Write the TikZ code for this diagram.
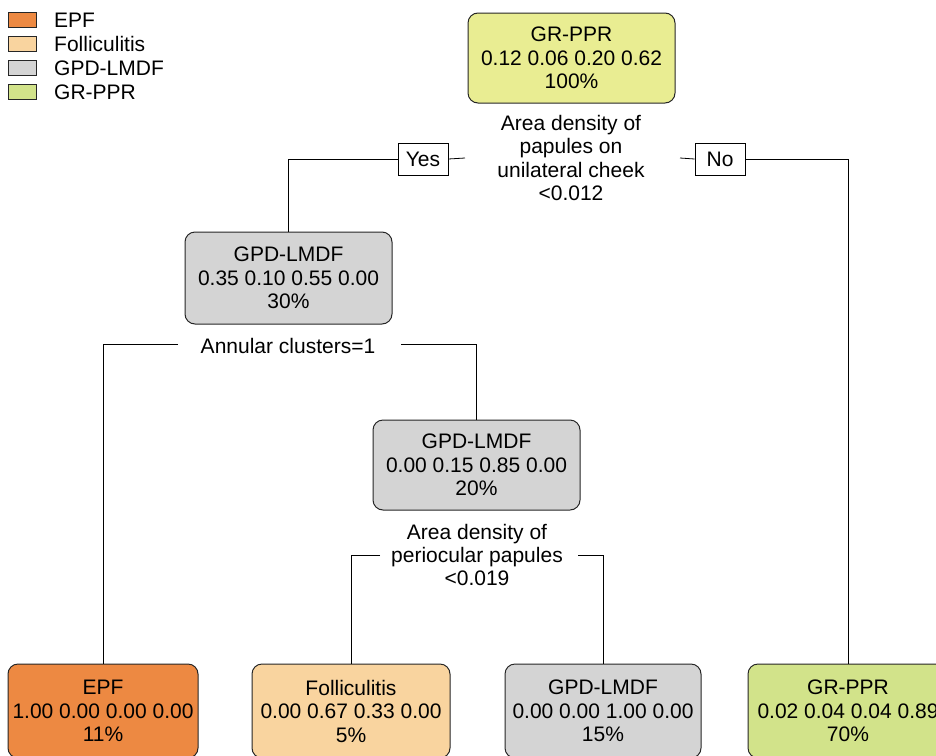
\documentclass[tikz,border=0pt]{standalone}
\usepackage{fontspec}
\setmainfont{Liberation Sans}
\definecolor{cEPF}{RGB}{237,137,66}
\definecolor{cFol}{RGB}{249,212,159}
\definecolor{cGPD}{RGB}{212,212,212}
\definecolor{cGR}{RGB}{210,227,138}
\definecolor{cRoot}{RGB}{233,237,146}
\begin{document}
\begin{tikzpicture}[x=1pt,y=-1pt,
  every node/.style={font=\fontsize{21}{23.4}\selectfont},
  treenode/.style={draw=black!85, line width=1pt, rounded corners=10pt, align=center,
    minimum height=90, inner sep=0pt, text depth=0pt},
  splitlab/.style={align=center, inner sep=1pt},
  yn/.style={draw=black, line width=0.8pt, inner xsep=7pt, inner ysep=4pt, minimum height=32, minimum width=50},
  conn/.style={line width=0.8pt, black},
  legbox/.style={draw=black!85, line width=0.8pt, minimum width=28, minimum height=15, inner sep=0pt},
  legtxt/.style={anchor=west, inner sep=0pt}]
\useasboundingbox (0,0) rectangle (936,755);
% legend
\node[legbox, fill=cEPF] (lb1) at (22,20) {};
\node[legbox, fill=cFol] (lb2) at (22,44) {};
\node[legbox, fill=cGPD] (lb3) at (22,68) {};
\node[legbox, fill=cGR] (lb4) at (22,92) {};
\node[legtxt] (lt1) at (54,20) {EPF};
\node[legtxt] (lt2) at (54,44) {Folliculitis};
\node[legtxt] (lt3) at (54,68) {GPD-LMDF};
\node[legtxt] (lt4) at (54,92) {GR-PPR};
% nodes
\node[treenode, fill=cRoot, minimum width=207] (root) at (571.5,58) {GR-PPR\\0.12 0.06 0.20 0.62\\100\%};
\node[splitlab] (s1) at (571,158) {Area density of\\papules on\\unilateral cheek\\<0.012};
\node[yn] (yes) at (423,159) {Yes};
\node[yn] (no) at (720,159) {No};
\node[treenode, fill=cGPD, minimum width=207, minimum height=92] (n2) at (288.5,278) {GPD-LMDF\\0.35 0.10 0.55 0.00\\30\%};
\node[splitlab] (s2) at (288,346) {Annular clusters=1};
\node[treenode, fill=cGPD, minimum width=207] (n3) at (476.5,465) {GPD-LMDF\\0.00 0.15 0.85 0.00\\20\%};
\node[splitlab] (s3) at (477,555) {Area density of\\periocular papules\\<0.019};
\node[treenode, fill=cEPF, minimum width=190, minimum height=94] (l1) at (103,711) {EPF\\1.00 0.00 0.00 0.00\\11\%};
\node[treenode, fill=cFol, minimum width=198, minimum height=94] (l2) at (351,711) {Folliculitis\\0.00 0.67 0.33 0.00\\5\%};
\node[treenode, fill=cGPD, minimum width=196, minimum height=94] (l3) at (603,711) {GPD-LMDF\\0.00 0.00 1.00 0.00\\15\%};
\node[treenode, fill=cGR, minimum width=200, minimum height=94] (l4) at (848,711) {GR-PPR\\0.02 0.04 0.04 0.89\\70\%};
% connector ends
\coordinate (ry) at (465,158);
\coordinate (rn) at (680,158);
\coordinate (a1) at (178,344);
\coordinate (a2) at (401,344);
\coordinate (b1) at (380,555);
\coordinate (b2) at (578,555);
% connectors
\draw[conn] (yes.west) -| (n2.north);
\draw[conn] (yes.east) -- (ry);
\draw[conn] (rn) -- (no.west);
\draw[conn] (no.east) -| (l4.north);
\draw[conn] (a1) -| (l1.north);
\draw[conn] (a2) -| (n3.north);
\draw[conn] (b1) -| (l2.north);
\draw[conn] (b2) -| (l3.north);
\end{tikzpicture}
\end{document}
